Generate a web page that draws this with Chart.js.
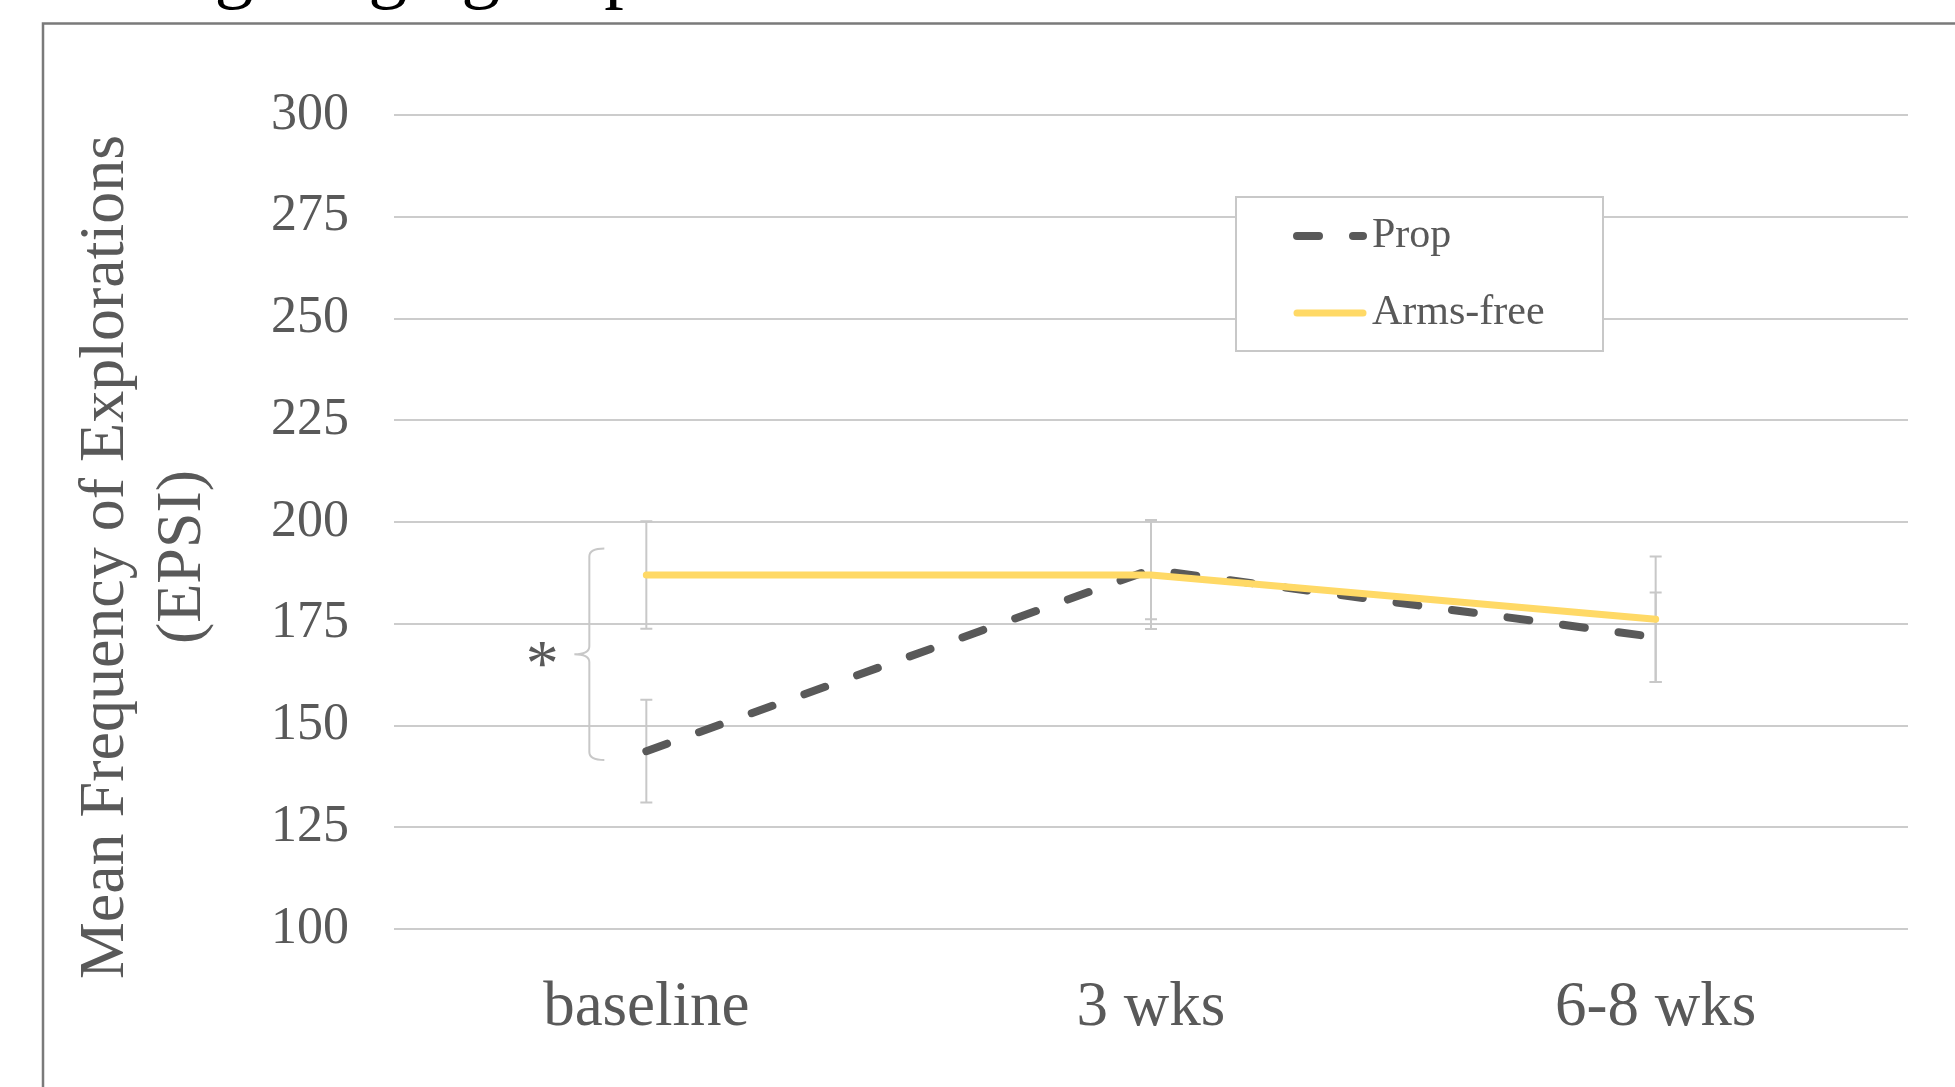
<!DOCTYPE html>
<html>
<head>
    <meta charset="utf-8">
    <title>Mean Frequency of Explorations</title>
    <style>
        body {
            margin: 0;
            background: #ffffff;
        }
        canvas {
            display: block;
        }
    </style>
</head>
<body>
    <canvas id="epsiChart" width="1955" height="1087"></canvas>

    <script src="https://cdn.jsdelivr.net/npm/chart.js"></script>
    <script>
        // values
        const categories = ['baseline', '3 wks', '6-8 wks'];
        const propMeans = [143.7, 188.3, 171.7];
        const propErrors = [12.6, 12.2, 11];
        const armsFreeMeans = [187, 187, 176.1];
        const armsFreeErrors = [13.2, 13.3, 15.4];
        const yTicks = [100, 125, 150, 175, 200, 225, 250, 275, 300];

        const SERIF = '"Liberation Serif", "Times New Roman", serif';
        const TEXT_GREY = '#595959';
        const LINE_GREY = '#cccccc';

        // frame round the figure and the cut-off heading above it
        const framePlugin = {
            id: 'frame',
            beforeDraw(chart) {
                const ctx = chart.ctx;
                ctx.save();
                ctx.fillStyle = '#000000';
                ctx.font = '78px ' + SERIF;
                ctx.textBaseline = 'alphabetic';
                ctx.fillText('Younger age group', 49, -7);
                ctx.strokeStyle = '#7a7a7a';
                ctx.lineWidth = 2.5;
                ctx.strokeRect(43, 23.5, 2100, 2100);
                ctx.restore();
            }
        };

        // error bars sit behind the lines
        const errorBarPlugin = {
            id: 'errorBars',
            beforeDatasetsDraw(chart) {
                const ctx = chart.ctx;
                const x = chart.scales.x;
                const y = chart.scales.y;
                ctx.save();
                ctx.strokeStyle = '#c8c8c8';
                ctx.lineWidth = 2;
                chart.data.datasets.forEach(ds => {
                    ds.data.forEach((v, i) => {
                        const px = x.getPixelForValue(i);
                        const top = y.getPixelForValue(v + ds.errors[i]);
                        const bot = y.getPixelForValue(v - ds.errors[i]);
                        ctx.beginPath();
                        ctx.moveTo(px, top);
                        ctx.lineTo(px, bot);
                        ctx.moveTo(px - 6, top);
                        ctx.lineTo(px + 6, top);
                        ctx.moveTo(px - 6, bot);
                        ctx.lineTo(px + 6, bot);
                        ctx.stroke();
                    });
                });

                // significance bracket at baseline
                const bx = x.getPixelForValue(0) - 57;
                const bTop = y.getPixelForValue(193.5);
                const bBot = y.getPixelForValue(141.5);
                const bMid = (bTop + bBot) / 2;
                const r = 8;
                ctx.beginPath();
                ctx.moveTo(bx + 15, bTop);
                ctx.quadraticCurveTo(bx, bTop, bx, bTop + r);
                ctx.lineTo(bx, bMid - r);
                ctx.quadraticCurveTo(bx, bMid, bx - 15, bMid);
                ctx.quadraticCurveTo(bx, bMid, bx, bMid + r);
                ctx.lineTo(bx, bBot - r);
                ctx.quadraticCurveTo(bx, bBot, bx + 15, bBot);
                ctx.stroke();

                ctx.fillStyle = TEXT_GREY;
                ctx.font = '66px ' + SERIF;
                ctx.textAlign = 'center';
                ctx.textBaseline = 'alphabetic';
                ctx.fillText('*', bx - 47, bMid + 31);
                ctx.restore();
            }
        };

        // y title, two lines, centred a bit below the plot centre like the source
        const yTitlePlugin = {
            id: 'yTitle',
            afterDraw(chart) {
                const ctx = chart.ctx;
                ctx.save();
                ctx.translate(0, 557);
                ctx.rotate(-Math.PI / 2);
                ctx.fillStyle = TEXT_GREY;
                ctx.font = '64px ' + SERIF;
                ctx.textAlign = 'center';
                ctx.textBaseline = 'alphabetic';
                ctx.fillText('Mean Frequency of Explorations', 0, 123);
                ctx.fillText('(EPSI)', 0, 200);
                ctx.restore();
            }
        };

        // boxed legend inside the plot
        const boxLegendPlugin = {
            id: 'boxLegend',
            afterDraw(chart) {
                const ctx = chart.ctx;
                ctx.save();
                ctx.fillStyle = '#ffffff';
                ctx.fillRect(1236, 197, 367, 154);
                ctx.strokeStyle = '#c8c8c8';
                ctx.lineWidth = 2;
                ctx.strokeRect(1236, 197, 367, 154);
                const rows = [236, 313];
                chart.data.datasets.forEach((ds, i) => {
                    const yy = rows[i];
                    ctx.beginPath();
                    ctx.strokeStyle = ds.borderColor;
                    ctx.lineWidth = ds.borderWidth;
                    ctx.lineCap = 'round';
                    ctx.setLineDash(ds.borderDash || []);
                    ctx.moveTo(1297, yy);
                    ctx.lineTo(1363, yy);
                    ctx.stroke();
                    ctx.setLineDash([]);
                    ctx.fillStyle = TEXT_GREY;
                    ctx.font = '42px ' + SERIF;
                    ctx.textAlign = 'left';
                    ctx.textBaseline = 'middle';
                    ctx.fillText(ds.label, 1372, yy);
                });
                ctx.restore();
            }
        };

        new Chart(document.getElementById('epsiChart'), {
            type: 'line',
            data: {
                labels: categories,
                datasets: [{
                    label: 'Prop',
                    data: propMeans,
                    errors: propErrors,
                    borderColor: '#595959',
                    borderWidth: 8,
                    borderDash: [22, 34],
                    borderCapStyle: 'round',
                    borderJoinStyle: 'round',
                    pointRadius: 0,
                    tension: 0,
                    order: 2
                },
                {
                    label: 'Arms-free',
                    data: armsFreeMeans,
                    errors: armsFreeErrors,
                    borderColor: '#ffd966',
                    borderWidth: 7,
                    borderCapStyle: 'round',
                    borderJoinStyle: 'round',
                    pointRadius: 0,
                    tension: 0,
                    order: 1
                }]
            },
            options: {
                responsive: false,
                animation: false,
                layout: {
                    padding: { top: 115, right: 47, left: 0, bottom: 0 }
                },
                plugins: {
                    legend: { display: false },
                    tooltip: { enabled: false }
                },
                scales: {
                    x: {
                        offset: true,
                        grid: { display: false },
                        border: { display: false },
                        ticks: {
                            color: TEXT_GREY,
                            font: { family: SERIF, size: 63 },
                            padding: 34
                        },
                        afterFit(scale) { scale.height = 158; }
                    },
                    y: {
                        min: 100,
                        max: 300,
                        afterBuildTicks(scale) {
                            scale.ticks = yTicks.map(v => ({ value: v }));
                        },
                        grid: { color: LINE_GREY, lineWidth: 2, drawTicks: false },
                        border: { display: false },
                        ticks: {
                            color: TEXT_GREY,
                            font: { family: SERIF, size: 52 },
                            padding: 45
                        },
                        afterFit(scale) { scale.width = 394; }
                    }
                }
            },
            plugins: [framePlugin, errorBarPlugin, yTitlePlugin, boxLegendPlugin]
        });
    </script>
</body>
</html>
